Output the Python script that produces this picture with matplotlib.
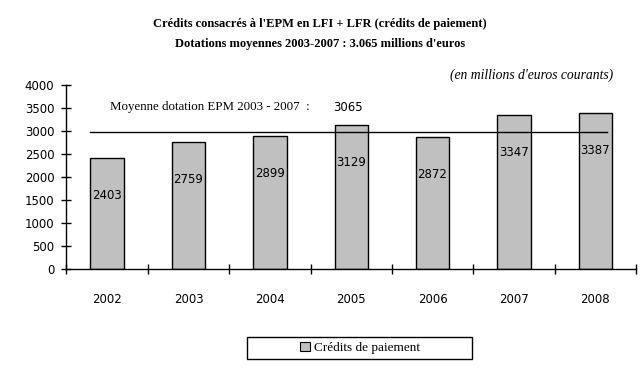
import matplotlib
matplotlib.use('Agg')
import matplotlib.pyplot as plt
from matplotlib.patches import Rectangle

# ----------------- Data -----------------
years = ['2002', '2003', '2004', '2005', '2006', '2007', '2008']
credits = [2403, 2759, 2899, 3129, 2872, 3347, 3387]
mean_line_value = 2975          # level where the average line is drawn
mean_label = 3065               # value written next to the line label
yticks = [0, 500, 1000, 1500, 2000, 2500, 3000, 3500, 4000]

SERIF = 'Liberation Serif'
SANS = 'DejaVu Sans'

fig = plt.figure(figsize=(6.43, 3.68), dpi=100)
fig.patch.set_facecolor('white')
ax = fig.add_axes([0.1034, 0.269, 0.8856, 0.5]) # from spine pixel positions

x = range(len(years))
ax.bar(x, credits, width=0.41, color='#C0C0C0', edgecolor='black', linewidth=1.0, zorder=2)

# average line (starts at the first bar's left edge, stops before the last bar's right edge)
ax.plot([-0.205, 6.14], [mean_line_value, mean_line_value], color='black', linewidth=1.0, zorder=3)

# value labels inside the bars
for i, v in enumerate(credits):
    ax.annotate(str(v), (i, v), xytext=(0, -27), textcoords='offset points',
                ha='center', va='center', fontsize=8.5, family=SANS, zorder=4)

ax.text(0.04, 3516, "Moyenne dotation EPM 2003 - 2007  :", fontsize=9.3, family=SERIF,
        ha='left', va='center')
ax.text(2.78, 3516, str(mean_label), fontsize=8.5, family=SANS, ha='left', va='center')

ax.set_xlim(-0.5, 6.5)
ax.set_ylim(0, 4000)
ax.set_yticks(yticks)
ax.set_yticklabels([str(t) for t in yticks], family=SANS, fontsize=8.5)

# ticks sit between the categories on the x axis
ax.set_xticks([i + 0.5 for i in range(-1, len(years))])
ax.set_xticklabels([])
ax.set_xticks(list(x), minor=True)
ax.set_xticklabels(years, minor=True, family=SANS, fontsize=8.5)
ax.tick_params(axis='x', which='minor', length=0, pad=17)
ax.tick_params(axis='x', which='major', direction='inout', length=6.5, width=1.0)
ax.tick_params(axis='y', direction='inout', length=6.5, width=1.0, pad=5.5)

for side in ['top', 'right']:
    ax.spines[side].set_visible(False)
ax.spines['left'].set_linewidth(1.0)
ax.spines['bottom'].set_linewidth(1.0)

# titles
fig.text(0.498, 1 - 24 / 368, "Crédits consacrés à l'EPM en LFI + LFR (crédits de paiement)",
         ha='center', va='center', fontsize=9, fontweight='bold', family=SERIF)
fig.text(0.498, 1 - 44 / 368, "Dotations moyennes 2003-2007 : 3.065 millions d'euros",
         ha='center', va='center', fontsize=9, fontweight='bold', family=SERIF)
fig.text(613 / 643, 1 - 75 / 368, "(en millions d'euros courants)", ha='right', va='center',
         fontsize=9.8, style='italic', family=SERIF)

# legend box
fig.patches.append(Rectangle((246.7 / 643, 1 - 359 / 368), 225.6 / 643, 22.3 / 368,
                             transform=fig.transFigure, facecolor='white',
                             edgecolor='black', linewidth=1.0))
handle = Rectangle((0, 0), 1, 1, facecolor='#C0C0C0', edgecolor='black', linewidth=0.8)
fig.legend([handle], ['Crédits de paiement'], loc='center',
           bbox_to_anchor=(360 / 643, 1 - 348 / 368), frameon=False,
           handlelength=0.75, handleheight=0.75, handletextpad=0.3,
           prop={'family': SERIF, 'size': 9.5})

fig.savefig('out.png', dpi=100)
plt.close(fig)
